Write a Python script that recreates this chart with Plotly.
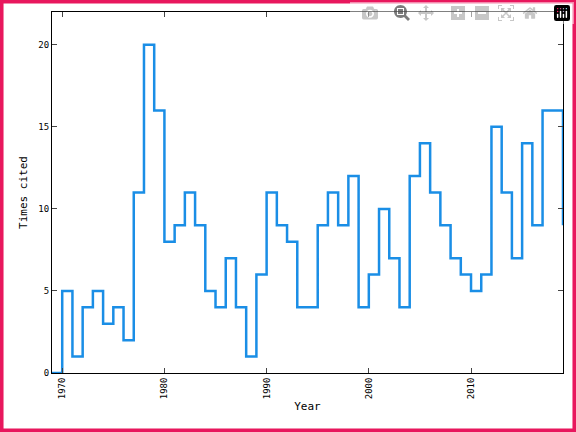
import plotly.graph_objects as go

years = list(range(1969, 2020))
cites = [0,5,1,4,5,3,4,2,11,20,16,8,9,11,9,5,4,7,4,1,6,11,9,8,4,4,9,11,9,12,4,6,10,7,4,12,14,11,9,7,6,5,6,15,11,7,14,9,16,16,9]
xticks = [1970,1980,1990,2000,2010]
yticks = [0,5,10,15,20]

W,H = 576,432
l,r,t,b = 52,13,12,59
pw,ph = W-l-r, H-t-b

fig = go.Figure(go.Scatter(x=years, y=cites, mode="lines", line_shape="hv",
                           line=dict(color="#1a8ee6", width=2.5)))
fig.update_layout(
    width=W, height=H, margin=dict(l=l,r=r,t=t,b=b),
    plot_bgcolor="white", paper_bgcolor="white", showlegend=False,
    font=dict(family="DejaVu Sans Mono", size=9, color="black"),
    shapes=[dict(type="rect", xref="paper", yref="paper",
                 x0=-l/pw+0.003, x1=1+r/pw-0.003, y0=-b/ph+0.004, y1=1+t/ph-0.004,
                 line=dict(color="#e8175d", width=4))],
)
fig.update_xaxes(range=[1969, 2019], tickvals=xticks, tickangle=-90, ticks="inside",
                 ticklen=5, mirror="ticks", showline=True, linecolor="black", linewidth=1,
                 showgrid=False, zeroline=False, title=dict(text="Year", standoff=4))
fig.update_yaxes(range=[0, 22], tickvals=yticks, ticks="inside", ticklen=5,
                 mirror="ticks", showline=True, linecolor="black", linewidth=1,
                 showgrid=False, zeroline=False, title=dict(text="Times cited", standoff=8))
fig.write_html("out.html")
with open("out.html", encoding="utf-8") as f:
    html = f.read()
html = html.replace("<body>", '<body style="margin:0;overflow:hidden">', 1)
with open("out.html", "w", encoding="utf-8") as f:
    f.write(html)
